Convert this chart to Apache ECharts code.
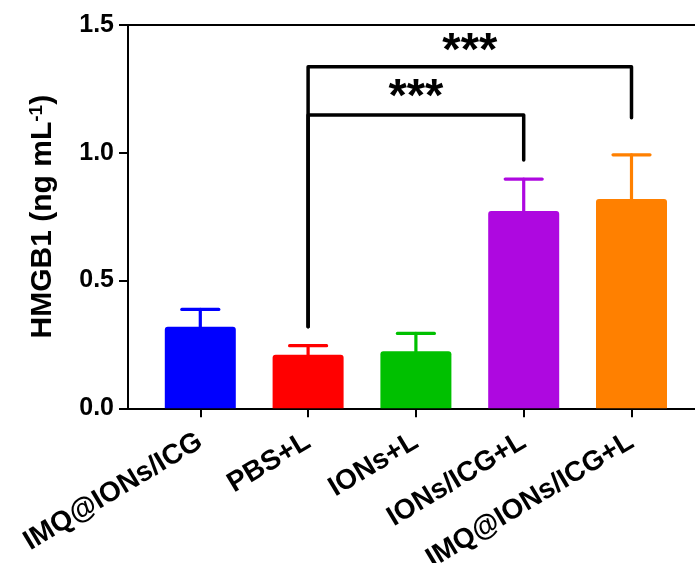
<!DOCTYPE html>
<html><head><meta charset="utf-8">
<script src="https://cdn.jsdelivr.net/npm/echarts@6/dist/echarts.min.js"></script>
<style>html,body{margin:0;padding:0;background:#fff}#c{width:695px;height:563px}</style>
</head><body><div id="c"></div>
<script>
var categories = ['IMQ@IONs/ICG', 'PBS+L', 'IONs+L', 'IONs/ICG+L', 'IMQ@IONs/ICG+L'];
var means = [0.319, 0.21, 0.223, 0.772, 0.819];
var errors = [0.068, 0.035, 0.07, 0.125, 0.173];
var colors = ['#0000FF', '#FF0000', '#00C000', '#AE08E0', '#FF8000'];
var yTicks = [0, 0.5, 1.0, 1.5];
// brackets: [fromIndex, toIndex, topY, leftBottomY, rightBottomY, label, labelY]
var brackets = [
  [1, 4, 1.337, 0.319, 1.137, '***', 1.396],
  [1, 3, 1.148, 0.319, 0.972, '***', 1.215]
];

var FONT = 'Liberation Sans, Arial, sans-serif';
var chart = echarts.init(document.getElementById('c'));
var option = {
  animation: false,
  grid: [
    {left: 128, right: 0, top: 25, height: 383.3, outerBoundsMode: 'none', containLabel: false},
    {left: 146.4, width: 539, top: 25, height: 383.3, outerBoundsMode: 'none', containLabel: false}
  ],
  xAxis: [
    {type: 'value', gridIndex: 0, min: 0, max: 1, axisLine: {show: true, lineStyle: {color: '#000', width: 2}},
     axisTick: {show: false}, axisLabel: {show: false}, splitLine: {show: false}},
    {type: 'category', gridIndex: 1, data: categories, axisLine: {show: false},
     axisTick: {show: true, alignWithLabel: true, length: 9, lineStyle: {color: '#000', width: 2}},
     axisLabel: {rotate: 31, fontSize: 28, fontWeight: 'bold', color: '#000', fontFamily: FONT, margin: 31, interval: 0}},
    {type: 'value', gridIndex: 0, position: 'top', min: 0, max: 1, axisLine: {show: true, lineStyle: {color: '#000', width: 2}},
     axisTick: {show: false}, axisLabel: {show: false}, splitLine: {show: false}}
  ],
  yAxis: [
    {type: 'value', gridIndex: 0, min: yTicks[0], max: yTicks[yTicks.length - 1], interval: 0.5,
     axisLine: {show: true, lineStyle: {color: '#000', width: 2}},
     axisTick: {show: true, length: 9, lineStyle: {color: '#000', width: 2}},
     axisLabel: {fontSize: 25, fontWeight: 'bold', color: '#000', fontFamily: FONT, margin: 14,
       formatter: function (v) { return v.toFixed(1); }},
     splitLine: {show: false},
     name: '{a|HMGB1 (ng mL}{s|-1}{a|)}', nameLocation: 'middle', nameRotate: 90, nameGap: 70,
     nameTextStyle: {rich: {
       a: {fontSize: 30, fontWeight: 'bold', color: '#000', fontFamily: FONT},
       s: {fontSize: 19, fontWeight: 'bold', color: '#000', fontFamily: FONT, verticalAlign: 'top', padding: [0, 0, 12, 0]}
     }}},
    {type: 'value', gridIndex: 1, min: 0, max: 1.5, show: false}
  ],
  series: [
    {type: 'bar', xAxisIndex: 1, yAxisIndex: 1, barWidth: 71,
     data: means.map(function (v, i) { return {value: v, itemStyle: {color: colors[i], borderRadius: [3, 3, 0, 0]}}; })},
    {type: 'custom', xAxisIndex: 1, yAxisIndex: 1, z: 1,
     data: means.map(function (v, i) { return [i, v, v + errors[i]]; }),
     renderItem: function (params, api) {
       var i = api.value(0);
       var p0 = api.coord([i, api.value(1)]);
       var p1 = api.coord([i, api.value(2)]);
       var hw = 18.5;
       var st = {stroke: colors[i], lineWidth: 3.2, lineCap: 'round'};
       return {type: 'group', children: [
         {type: 'line', shape: {x1: p0[0], y1: p0[1], x2: p1[0], y2: p1[1]}, style: st},
         {type: 'line', shape: {x1: p1[0] - hw, y1: p1[1], x2: p1[0] + hw, y2: p1[1]}, style: st}
       ]};
     }},
    {type: 'custom', xAxisIndex: 1, yAxisIndex: 1, z: 5,
     data: brackets,
     renderItem: function (params, api) {
       var b = brackets[params.dataIndex];
       var lb = api.coord([b[0], b[3]]);
       var lt = api.coord([b[0], b[2]]);
       var rt = api.coord([b[1], b[2]]);
       var rb = api.coord([b[1], b[4]]);
       var ly = api.coord([b[0], b[6]])[1];
       var lx = (lt[0] + rt[0]) / 2;
       return {type: 'group', children: [
         {type: 'polyline', shape: {points: [lb, lt, rt, rb]},
          style: {stroke: '#000', lineWidth: 3.5, fill: null, lineJoin: 'round', lineCap: 'round'}},
         {type: 'text', x: lx, y: ly,
          style: {text: b[5], fontSize: 47, fontWeight: 'bold', fontFamily: FONT, fill: '#000',
                  align: 'center', verticalAlign: 'middle'}}
       ]};
     }}
  ]
};
chart.setOption(option);
</script></body></html>
